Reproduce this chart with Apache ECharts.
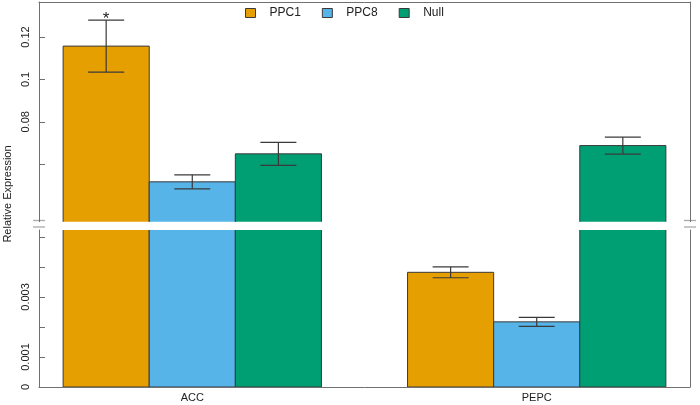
<!DOCTYPE html>
<html><head><meta charset="utf-8">
<script src="https://cdn.jsdelivr.net/npm/echarts@6/dist/echarts.min.js"></script>
<style>html,body{margin:0;padding:0;background:#fff}#c{width:700px;height:405px}</style>
</head><body><div id="c"></div>
<script>
// ---- data ----
const categories = ['ACC', 'PEPC'];
const seriesNames = ['PPC1', 'PPC8', 'Null'];
const ppc1Values = [0.1157, 0.00382];
const ppc1Errors = [0.0123, 0.00018];
const ppc8Values = [0.0517, 0.00217];
const ppc8Errors = [0.0033, 0.00015];
const nullValues = [0.0649, 0.0688];
const nullErrors = [0.0054, 0.0040];
const ppc1Marks = ['*', ''];
const upperTicks = [0.06, 0.08, 0.1, 0.12];
const upperTickLabels = ['', '0.08', '0.1', '0.12'];
const lowerTicks = [0, 0.001, 0.002, 0.003, 0.004, 0.005];
const lowerTickLabels = ['0', '0.001', '', '0.003', '', ''];

// ---- styling / layout ----
const colors = ['#E69F00', '#56B4E9', '#009E73'];
const FONT = 'Liberation Sans, Arial, Helvetica, sans-serif';
const frameColor = '#707070';
const upperRange = [0.0329, 0.1365];
const lowerRange = [0, 0.00523];
const xRange = [0.72, 8.28];
const groupStart = g => 1 + 4 * g;     // R barplot style: space between groups = 1 bar
const catPositions = categories.map((c, g) => groupStart(g) + 1.5);

const valueSets = [ppc1Values, ppc8Values, nullValues];
const errorSets = [ppc1Errors, ppc8Errors, nullErrors];
const markSets = [ppc1Marks, ['', ''], ['', '']];

function labelFrom(ticks, labels) {
  return v => { const i = ticks.findIndex(t => Math.abs(t - v) < 1e-9); return i >= 0 ? labels[i] : ''; };
}

function barRender(s) {
  return function (params, api) {
    const g = api.value(0), v = api.value(1);
    const x0 = groupStart(g) + s;
    const p0 = api.coord([x0, 0]);
    const p1 = api.coord([x0 + 1, v]);
    return {
      type: 'rect',
      shape: { x: p0[0], y: p1[1], width: p1[0] - p0[0], height: p0[1] - p1[1] },
      style: { fill: colors[s], stroke: '#3a3a3a', lineWidth: 1 }
    };
  };
}
function errRender(s) {
  return function (params, api) {
    const g = api.value(0), v = api.value(1), e = api.value(2);
    const xc = groupStart(g) + s + 0.5;
    const top = api.coord([xc, v + e]);
    const bot = api.coord([xc, v - e]);
    const hw = 18;
    const st = { stroke: '#3a3a3a', lineWidth: 1.2 };
    const children = [
      { type: 'line', shape: { x1: top[0], y1: top[1], x2: bot[0], y2: bot[1] }, style: st },
      { type: 'line', shape: { x1: top[0] - hw, y1: top[1], x2: top[0] + hw, y2: top[1] }, style: st },
      { type: 'line', shape: { x1: bot[0] - hw, y1: bot[1], x2: bot[0] + hw, y2: bot[1] }, style: st }
    ];
    const mark = markSets[s][g];
    if (mark) {
      children.push({ type: 'text', x: top[0], y: top[1] - 1,
        style: { text: mark, fontSize: 17, fontFamily: FONT, fill: '#222', align: 'center', verticalAlign: 'middle' } });
    }
    return { type: 'group', children };
  };
}

const series = [];
[0, 1].forEach(gi => {
  const xi = gi, yi = gi * 2;
  seriesNames.forEach((name, s) => {
    series.push({
      name, type: 'custom', xAxisIndex: xi, yAxisIndex: yi, clip: true,
      itemStyle: { color: colors[s], borderColor: '#3a3a3a', borderWidth: 1 },
      renderItem: barRender(s), encode: { x: 0, y: 1 },
      data: categories.map((c, g) => [g, valueSets[s][g]])
    });
  });
  seriesNames.forEach((name, s) => {
    series.push({
      name: name + ' error', type: 'custom', xAxisIndex: xi, yAxisIndex: yi, clip: true,
      renderItem: errRender(s), encode: { x: 0, y: 1 },
      data: categories.map((c, g) => [g, valueSets[s][g], errorSets[s][g]]),
      z: 5
    });
  });
});

const lineOnly = { show: true, onZero: false, lineStyle: { color: frameColor, width: 1 } };
const labelStyle = { color: '#222', fontSize: 11, fontFamily: FONT };

const option = {
  animation: false,
  backgroundColor: '#fff',
  textStyle: { fontFamily: FONT },
  legend: {
    data: seriesNames.map((n, s) => ({ name: n, itemStyle: { color: colors[s], borderColor: '#3a3a3a', borderWidth: 1 } })),
    icon: 'rect', itemWidth: 10, itemHeight: 9, itemGap: 21,
    left: 245, top: 7, padding: 0,
    textStyle: { color: '#222', fontSize: 12, fontFamily: FONT, padding: [0, 0, 0, 9] }
  },
  grid: [
    { left: 39, right: 10, top: 2, bottom: 183.3 },
    { left: 39, right: 10, top: 230, bottom: 18 }
  ],
  xAxis: [
    { gridIndex: 0, type: 'value', min: xRange[0], max: xRange[1], position: 'top',
      axisLine: lineOnly, axisTick: { show: false }, axisLabel: { show: false }, splitLine: { show: false } },
    { gridIndex: 1, type: 'value', min: xRange[0], max: xRange[1], position: 'bottom',
      axisLine: lineOnly,
      axisTick: { show: true, inside: true, length: 5, customValues: catPositions, lineStyle: { color: '#333' } },
      axisLabel: Object.assign({ customValues: catPositions, margin: 5,
        formatter: v => categories[Math.round((v - catPositions[0]) / 4)] }, labelStyle),
      splitLine: { show: false } }
  ],
  yAxis: [
    { gridIndex: 0, type: 'value', min: upperRange[0], max: upperRange[1], position: 'left',
      axisLine: lineOnly,
      axisTick: { show: true, inside: true, length: 6, customValues: upperTicks, lineStyle: { color: frameColor } },
      axisLabel: Object.assign({ customValues: upperTicks, rotate: 90, margin: 8,
        formatter: labelFrom(upperTicks, upperTickLabels) }, labelStyle),
      splitLine: { show: false } },
    { gridIndex: 0, type: 'value', min: upperRange[0], max: upperRange[1], position: 'right',
      axisLine: lineOnly, axisTick: { show: false }, axisLabel: { show: false }, splitLine: { show: false } },
    { gridIndex: 1, type: 'value', min: lowerRange[0], max: lowerRange[1], position: 'left',
      axisLine: lineOnly,
      axisTick: { show: true, inside: true, length: 6, customValues: lowerTicks, lineStyle: { color: frameColor } },
      axisLabel: Object.assign({ customValues: lowerTicks, rotate: 90, margin: 8,
        formatter: labelFrom(lowerTicks, lowerTickLabels) }, labelStyle),
      splitLine: { show: false } },
    { gridIndex: 1, type: 'value', min: lowerRange[0], max: lowerRange[1], position: 'right',
      axisLine: lineOnly, axisTick: { show: false }, axisLabel: { show: false }, splitLine: { show: false } }
  ],
  graphic: [
    { type: 'text', x: 8, y: 194, rotation: Math.PI / 2,
      style: { text: 'Relative Expression', fontSize: 11, fontFamily: FONT, fill: '#222', align: 'center', verticalAlign: 'middle' } },
    { type: 'line', shape: { x1: 33, y1: 220.5, x2: 45, y2: 220.5 }, style: { stroke: '#aaa', lineWidth: 1.3 } },
    { type: 'line', shape: { x1: 33, y1: 227, x2: 45, y2: 227 }, style: { stroke: '#aaa', lineWidth: 1.3 } },
    { type: 'line', shape: { x1: 684, y1: 220.5, x2: 696, y2: 220.5 }, style: { stroke: '#aaa', lineWidth: 1.3 } },
    { type: 'line', shape: { x1: 684, y1: 227, x2: 696, y2: 227 }, style: { stroke: '#aaa', lineWidth: 1.3 } }
  ],
  series
};
const chart = echarts.init(document.getElementById('c'), null, { renderer: 'canvas' });
chart.setOption(option);
</script>
</body></html>
